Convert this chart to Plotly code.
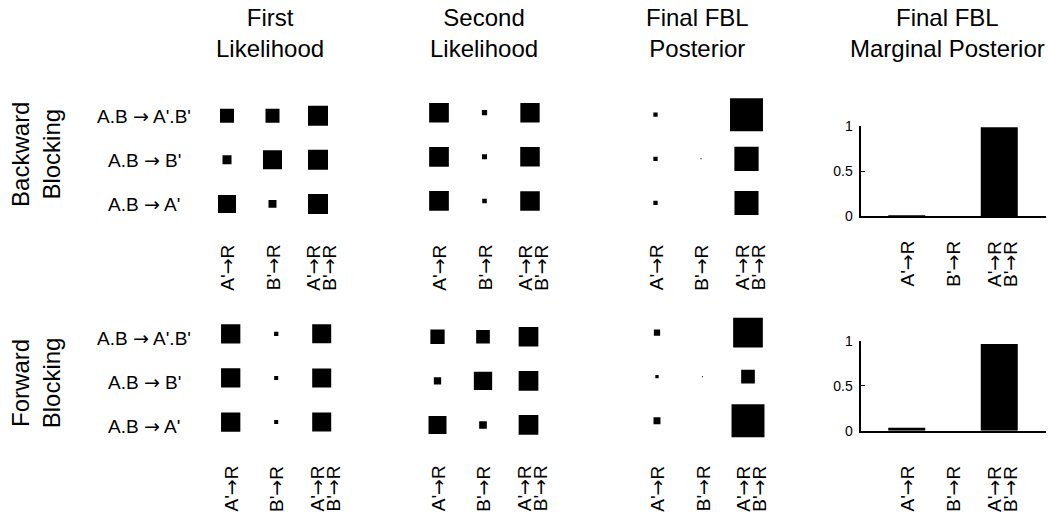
import numpy as np
import plotly.graph_objects as go

W, H = 1052, 528
FONT = "Liberation Sans, Arial, Helvetica, sans-serif"
ARROW_FONT = "DejaVu Sans"

# ---------------- data ----------------
ROW_GROUPS = ["Backward<br>Blocking", "Forward<br>Blocking"]
CONDITIONS = ["A.B → A'.B'", "A.B → B'", "A.B → A'"]
PANEL_TITLES = ["First<br>Likelihood", "Second<br>Likelihood",
                "Final FBL<br>Posterior", "Final FBL<br>Marginal Posterior"]
HYPOTHESES = [["A'→R"], ["B'→R"], ["A'→R", "B'→R"]]
HYP_X = [1, 2, 3]
COND_Y = [1, 2, 3]

# Hinton magnitudes (rows = conditions, cols = hypotheses)
bb_first = [[0.170, 0.170, 0.346],
            [0.070, 0.312, 0.346],
            [0.280, 0.055, 0.346]]
bb_second = [[0.336, 0.024, 0.322],
             [0.336, 0.022, 0.330],
             [0.336, 0.018, 0.330]]
bb_final = [[0.016, 0.000, 0.940],
            [0.016, 0.001, 0.510],
            [0.016, 0.000, 0.500]]
fb_first = [[0.322, 0.016, 0.312],
            [0.322, 0.014, 0.312],
            [0.322, 0.014, 0.312]]
fb_second = [[0.177, 0.162, 0.336],
             [0.046, 0.290, 0.336],
             [0.280, 0.051, 0.336]]
fb_final = [[0.034, 0.000, 0.763],
            [0.0094, 0.001, 0.162],
            [0.042, 0.000, 0.940]]

bb_marginal = [0.010, 0.000, 0.990]
fb_marginal = [0.035, 0.000, 0.965]

MARG_TICKS = [0, 0.5, 1]
MARG_TICKTEXT = ["0", "0.5", "1"]

# ---------------- layout helpers ----------------
SIDE = 34.0     # px side of a square of magnitude 1
STEP = 45.5     # px between hinton cells


def dom_x(p0, p1):
    return [p0 / W, p1 / W]


def dom_y(p0, p1):
    return [1 - p1 / H, 1 - p0 / H]


def px_y(p):
    return 1 - p / H


def arrowfy(s):
    return s.replace("→", f'<span style="font-family:{ARROW_FONT}">→</span>')


hinton_panels = [
    # (data, col1 centre px, row1 centre px)
    (bb_first, 227.0, 111.0),
    (bb_second, 439.0, 108.0),
    (bb_final, 655.5, 110.0),
    (fb_first, 230.7, 336.0),
    (fb_second, 437.5, 339.0),
    (fb_final, 657.0, 334.7),
]
marg_panels = [
    (bb_marginal, 860.5, 1045.5, 122.0, 215.0),
    (fb_marginal, 860.5, 1045.5, 343.3, 436.0),
]

fig = go.Figure()
layout = dict(
    width=W, height=H,
    margin=dict(l=0, r=0, t=0, b=0),
    paper_bgcolor="white", plot_bgcolor="white",
    showlegend=False,
    font=dict(family=FONT, color="black"),
)
annotations = []

label_tops = [242.0, 470.0]
LINE_SHIFTS = {1: [0], 2: [-5, 11]}


def add_hyp_labels(xname, top_px):
    for xv, lines in zip(HYP_X, HYPOTHESES):
        shifts = LINE_SHIFTS[len(lines)]
        for txt, sh in zip(lines, shifts):
            annotations.append(dict(
                x=xv, xref=xname, y=px_y(top_px), yref="paper",
                text=arrowfy(txt), textangle=-90, showarrow=False,
                xanchor="center", yanchor="top", xshift=sh,
                font=dict(size=19, family=FONT, color="black")))


idx = 0
for k, (vals, c1, r1) in enumerate(hinton_panels):
    idx += 1
    xn = "x" if idx == 1 else f"x{idx}"
    yn = "y" if idx == 1 else f"y{idx}"
    x0 = c1 - STEP / 2
    y0 = r1 - STEP / 2
    arr = np.array(vals, dtype=float)
    xs, ys, sz = [], [], []
    for i, cy in enumerate(COND_Y):
        for j, cx in enumerate(HYP_X):
            xs.append(cx)
            ys.append(cy)
            sz.append(SIDE * np.sqrt(arr[i, j]))
    fig.add_trace(go.Scatter(
        x=xs, y=ys, mode="markers", xaxis=xn, yaxis=yn,
        marker=dict(symbol="square", size=sz, color="black", opacity=1,
                    line=dict(width=0)),
        hoverinfo="skip"))
    layout["xaxis" if idx == 1 else f"xaxis{idx}"] = dict(
        domain=dom_x(x0, x0 + 3 * STEP), range=[0.5, 3.5],
        anchor=yn, visible=False, fixedrange=True)
    layout["yaxis" if idx == 1 else f"yaxis{idx}"] = dict(
        domain=dom_y(y0, y0 + 3 * STEP), range=[3.5, 0.5],
        anchor=xn, visible=False, fixedrange=True)
    add_hyp_labels(xn, label_tops[k // 3])
    if k % 3 == 0:
        # condition labels to the left of the first panel of each block
        for cy, txt in zip(COND_Y, CONDITIONS):
            annotations.append(dict(
                x=144 / W, xref="paper", y=cy, yref=yn, text=arrowfy(txt),
                showarrow=False, xanchor="center", yanchor="middle",
                yshift=0 if k == 0 else -4,
                font=dict(size=19, family=FONT, color="black")))

for k, (vals, px0, px1, py0, py1) in enumerate(marg_panels):
    idx += 1
    xn = f"x{idx}"
    yn = f"y{idx}"
    fig.add_trace(go.Bar(
        x=HYP_X, y=vals, width=0.8, xaxis=xn, yaxis=yn,
        marker=dict(color="black", line=dict(width=0)),
        hoverinfo="skip"))
    layout[f"xaxis{idx}"] = dict(
        domain=dom_x(px0, px1), range=[0, 4], anchor=yn,
        showline=True, linecolor="black", linewidth=2,
        showticklabels=False, ticks="", showgrid=False, zeroline=False,
        fixedrange=True)
    layout[f"yaxis{idx}"] = dict(
        domain=dom_y(py0, py1), range=[0, 1.0], anchor=xn,
        showline=True, linecolor="black", linewidth=2,
        ticks="inside", ticklen=4, tickwidth=1, tickcolor="black",
        tickvals=MARG_TICKS, ticktext=MARG_TICKTEXT,
        tickfont=dict(size=14, family=FONT, color="black"),
        ticklabelstandoff=3,
        showgrid=False, zeroline=False, fixedrange=True)
    add_hyp_labels(xn, [238.0, 470.0][k])

# panel titles
TITLE_X = [270.0, 484.0, 697.0, 947.5]
for tx, txt in zip(TITLE_X, PANEL_TITLES):
    annotations.append(dict(
        x=tx / W, xref="paper", y=px_y(-6.0), yref="paper", text=txt,
        showarrow=False, xanchor="center", yanchor="top",
        font=dict(size=24, family=FONT, color="black")))

# row-group labels
for cy, txt in zip([151.5, 387.0], ROW_GROUPS):
    annotations.append(dict(
        x=36 / W, xref="paper", y=px_y(cy), yref="paper", text=txt,
        textangle=-90, showarrow=False, xanchor="center", yanchor="middle",
        font=dict(size=24, family=FONT, color="black")))

layout["annotations"] = annotations
fig.update_layout(**layout)
fig.write_html(
    "out.html",
    config={"displayModeBar": False},
    post_script="document.body.style.margin='0';document.body.style.overflow='hidden';")
